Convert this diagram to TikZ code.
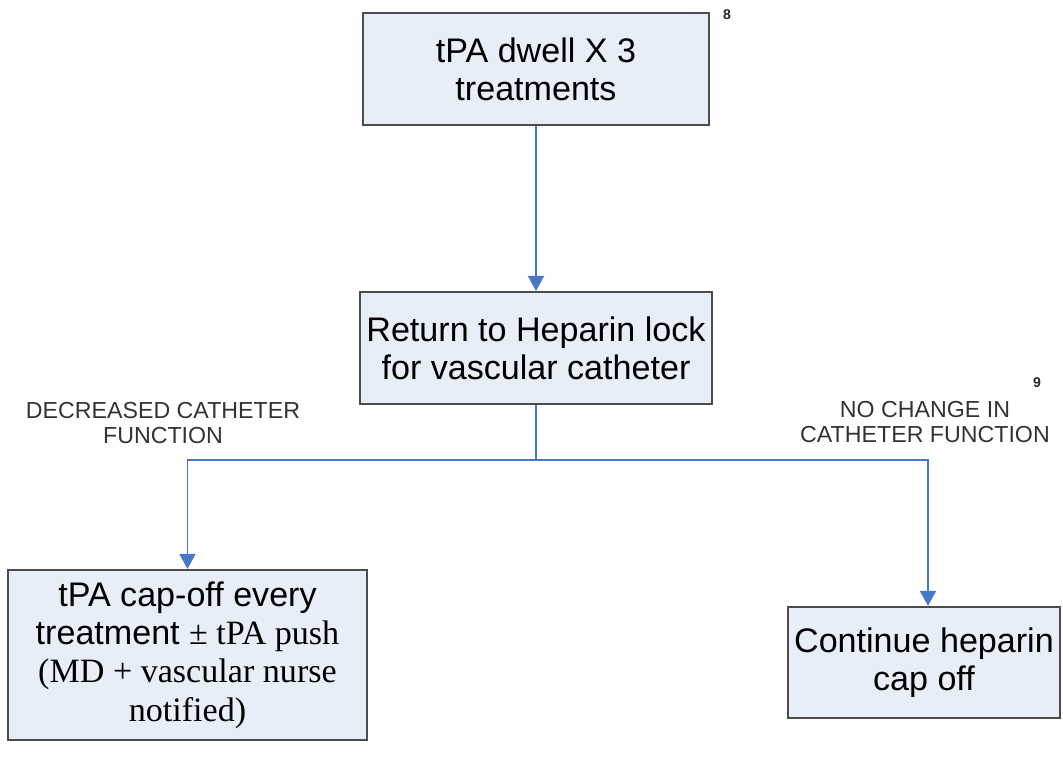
\documentclass[tikz,border=0pt]{standalone}
\usepackage{fontspec}
\setmainfont{Liberation Sans}
\newfontfamily\timesfont{Liberation Serif}
\usetikzlibrary{arrows.meta,shadows}
\definecolor{boxfill}{HTML}{E8EEF8}
\definecolor{flowblue}{HTML}{4A78C8}
\tikzset{
	stepbox/.style={draw=black!70, line width=1.2pt, fill=boxfill, align=center,
		font=\fontsize{19.4}{21.8}\selectfont, inner sep=0pt,
		drop shadow={shadow xshift=0.8pt, shadow yshift=-0.8pt, fill=black!60, opacity=1}},
	flow/.style={draw=flowblue, line width=1pt},
	tip/.style={-{Triangle[length=3mm,width=3.2mm]}},
	lbl/.style={align=center, text=black!80, font=\fontsize{13.2}{13.8}\selectfont},
	note/.style={text=black!85, font=\bfseries\fontsize{8}{9}\selectfont},
}
\begin{document}
\begin{tikzpicture}
		\useasboundingbox (0,0) rectangle (21.26,-15.14);
		\path
			  (10.72, -1.38) node[stepbox, minimum width=6.92cm, minimum height=2.24cm] (dwell)  {tPA dwell X 3\\treatments}
			  (10.72, -6.96) node[stepbox, minimum width=7.04cm, minimum height=2.24cm] (lock)   {Return to Heparin lock\\for vascular catheter}
			  ( 3.75,-13.10) node[stepbox, minimum width=7.18cm, minimum height=3.4cm]  (capoff) {tPA cap-off every\\treatment {\timesfont ± tPA push}\\{\timesfont(MD + vascular nurse}\\{\timesfont notified)}}
			  (18.48,-13.25) node[stepbox, minimum width=5.44cm, minimum height=2.22cm] (keep)   {Continue heparin\\cap off}
		;
		\coordinate (split) at (10.72,-9.2);
		\coordinate (left)  at (capoff.north |- split);
		\coordinate (right) at (18.56,-9.2);
		\coordinate (keeptop) at (right |- keep.north);
		\node[lbl] (worse) at ( 3.26,-8.46) {DECREASED CATHETER\\FUNCTION};
		\node[lbl] (same)  at (18.50,-8.44) {NO CHANGE IN\\CATHETER FUNCTION};
		\node[note] (ref8) at (14.54,-0.30) {8};
		\node[note] (ref9) at (20.74,-7.66) {9};
		\draw[flow,tip] (dwell) -- (lock);
		\draw[flow] (lock) -- (split);
		\draw[flow,tip] (split) -- (left) -- (capoff.north);
		\draw[flow,tip] (split) -- (right) -- (keeptop);
	\end{tikzpicture}
\end{document}
